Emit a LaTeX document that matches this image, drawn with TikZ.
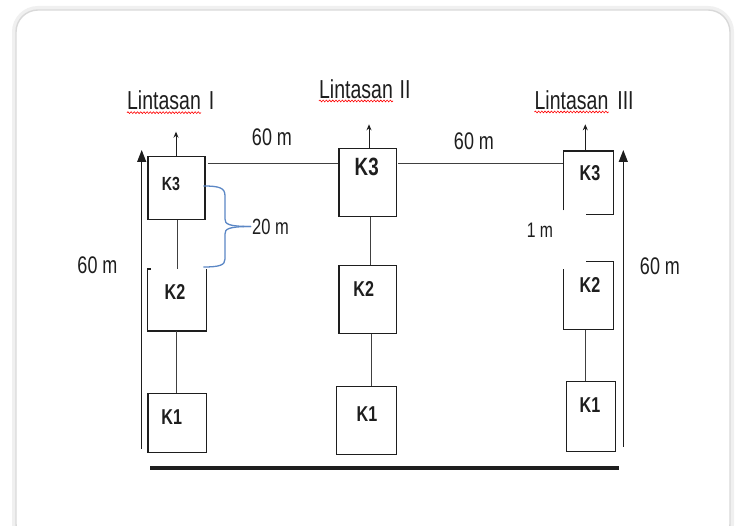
\documentclass[tikz,border=0pt]{standalone}
\usepackage{fontspec}
\setmainfont{Liberation Sans}
\newfontfamily\nar[FakeStretch=0.75]{Liberation Sans}
\usetikzlibrary{arrows.meta,calc,decorations.pathmorphing}
\definecolor{bracecol}{RGB}{91,135,197}
\definecolor{ink}{RGB}{30,30,30}
\begin{document}
\begin{tikzpicture}[x=1pt,y=-1pt,
  boxbase/.style={inner sep=0pt, anchor=north west, line width=1.2pt, draw=ink},
  openbox/.style={inner sep=0pt, anchor=north west, draw=none},
  boxline/.style={line width=1.2pt, draw=ink},
  conn/.style={line width=1pt, draw=ink!85},
  uparrow/.style={line width=1pt, draw=ink, -{Stealth[length=6pt,width=5pt]}},
  bigarrow/.style={line width=1.2pt, draw=ink, -{Triangle[length=12pt,width=9pt]}},
  klab/.style={font=\nar\bfseries\fontsize{21.5}{23}\selectfont, inner sep=0pt, text=ink},
  dimlab/.style={font=\nar\fontsize{24}{26}\selectfont, inner sep=0pt, text=ink},
  title/.style={font=\nar\fontsize{26}{28}\selectfont, inner sep=0pt, anchor=base, text=ink},
  wavy/.style={red, line width=0.6pt, decorate, decoration={snake, segment length=3.2pt, amplitude=0.9pt}}
]
\clip (0,0) rectangle (737,526);
\useasboundingbox (0,0) rectangle (737,526);
\fill[white] (0,0) rectangle (737,526);
% card
\draw[gray!12, line width=4pt, rounded corners=24pt] (14,8) rectangle (732,548);
\draw[gray!30, line width=1.4pt, fill=white, rounded corners=22pt] (16,10) rectangle (730,546);

% titles
\node[title] (lt1) at (164,110) {Lintasan};
\node[title] (lt1n) at (211.7,110) {I};
\node[title] (lt2) at (356,98.3) {Lintasan};
\node[title] (lt2n) at (405,98.3) {II};
\node[title] (lt3) at (571.5,109.3) {Lintasan};
\node[title] (lt3n) at (625.5,109.3) {III};
\draw[wavy] ($(lt1.south west)+(0,2.2)$) -- ($(lt1.south east)+(0,2.2)$);
\draw[wavy] ($(lt2.south west)+(0,2.2)$) -- ($(lt2.south east)+(0,2.2)$);
\draw[wavy] ($(lt3.south west)+(0,2.2)$) -- ($(lt3.south east)+(0,2.2)$);

% boxes column I
\node[boxbase, minimum width=57pt, minimum height=63.3pt] (k3a) at (147.3,156) {};
\node[openbox, minimum width=58.4pt, minimum height=61.7pt] (k2a) at (147.3,269) {};
\node[boxbase, minimum width=58.4pt, minimum height=59.6pt] (k1a) at (147.3,392.7) {};
% boxes column II
\node[boxbase, minimum width=57.4pt, minimum height=68pt] (k3b) at (338.3,147.7) {};
\node[boxbase, minimum width=57.4pt, minimum height=68.3pt] (k2b) at (338.3,265) {};
\node[boxbase, minimum width=60pt, minimum height=68pt] (k1b) at (335.7,386) {};
% boxes column III
\node[openbox, minimum width=50pt, minimum height=63pt] (k3c) at (563.3,151) {};
\node[openbox, minimum width=50pt, minimum height=67.6pt] (k2c) at (563.3,261.7) {};
\node[boxbase, minimum width=49pt, minimum height=69.7pt] (k1c) at (566,381) {};

% open box outlines
\draw[boxline] ($(k2a.north west)+(3.4,0)$) -- (k2a.north west) -- (k2a.south west) -- (k2a.south east) -- (k2a.north east);
\draw[boxline] ($(k3c.south west)+(0,-4)$) -- (k3c.north west) -- (k3c.north east) -- (k3c.south east) -- ($(k3c.south east)+(-27.3,0)$);
\draw[boxline] ($(k2c.north east)+(-27.3,0)$) -- (k2c.north east) -- (k2c.south east) -- (k2c.south west) -- ($(k2c.north west)+(0,7.3)$);

% box labels
\node[klab, font=\nar\bfseries\fontsize{19}{21}\selectfont] (t3a) at (171,184) {K3};
\node[klab] (t2a) at (175,292) {K2};
\node[klab] (t1a) at (171.7,416.7) {K1};
\node[klab, font=\nar\bfseries\fontsize{25}{27}\selectfont] (t3b) at (366.7,166.7) {K3};
\node[klab] (t2b) at (363.7,289) {K2};
\node[klab] (t1b) at (367,414) {K1};
\node[klab] (t3c) at (590,173.5) {K3};
\node[klab] (t2c) at (590,285) {K2};
\node[klab] (t1c) at (590,405) {K1};

% vertical connector anchor points
\coordinate (va1) at ($(k3a.south)+(0.8,0)$);
\coordinate (va2) at ($(k2a.south)+(0.2,0)$);
\coordinate (vb1) at ($(k3b.south)+(3,0)$);
\coordinate (vb2) at ($(k2b.south)+(3.5,0)$);
\coordinate (vc2) at ($(k2c.south)+(-3,0)$);
\draw[conn] (va1) -- (va1 |- k2a.north);
\draw[conn] (va2) -- (va2 |- k1a.north);
\draw[conn] (vb1) -- (vb1 |- k2b.north);
\draw[conn] (vb2) -- (vb2 |- k1b.north);
\draw[conn] (vc2) -- (vc2 |- k1c.north);

% horizontal connectors
\coordinate (h1a) at ($(k3a.north east)+(2.4,7.3)$);
\coordinate (h1b) at ($(k3b.north west)+(0,15.6)$);
\coordinate (h2a) at ($(k3b.north east)+(1.3,15.6)$);
\coordinate (h2b) at ($(k3c.north west)+(0,12.3)$);
\draw[conn, line width=1.2pt] (h1a) -- (h1b);
\draw[conn, line width=1.2pt] (h2a) -- (h2b);

% small up arrows
\coordinate (u1) at (176,131.7);
\coordinate (u2) at (369,124.3);
\coordinate (u3) at (585.3,124.3);
\draw[uparrow] (u1 |- k3a.north) -- (u1);
\draw[uparrow] (u2 |- k3b.north) -- (u2);
\draw[uparrow] (u3 |- k3c.north) -- (u3);

% big arrows
\coordinate (bl0) at (141.7,449);
\coordinate (bl1) at (141.7,150);
\coordinate (br0) at (623.3,446.7);
\coordinate (br1) at (623.3,150);
\draw[bigarrow] (bl0) -- (bl1);
\draw[bigarrow] (br0) -- (br1);

% ground
\coordinate (g0) at (150,468.3);
\coordinate (g1) at (619,468.3);
\draw[line width=3.6pt, ink] (g0) -- (g1);

% brace
\coordinate (bt) at (203.3,186);
\coordinate (bb) at (203.3,267);
\coordinate (bc) at (251,226.5);
\draw[bracecol, line width=1.3pt] (bt) .. controls (220,186) and (225,188) .. (225,196) -- (225,219) .. controls (225,224) and (228,226.5) .. (bc);
\draw[bracecol, line width=1.3pt] (bc) .. controls (228,226.5) and (225,229) .. (225,234) -- (225,259) .. controls (225,265) and (220,267) .. (bb);

% dimension labels
\node[dimlab, anchor=west, font=\nar\fontsize{22}{24}\selectfont] (d20) at (252,226.5) {20 m};
\node[dimlab] (d60a) at (272,137) {60 m};
\node[dimlab] (d60b) at (474,141) {60 m};
\node[dimlab] (d60l) at (97.5,265) {60 m};
\node[dimlab] (d60r) at (660,266) {60 m};
\node[dimlab, font=\nar\fontsize{21}{23}\selectfont] (d1) at (540,230) {1 m};
\end{tikzpicture}
\end{document}
